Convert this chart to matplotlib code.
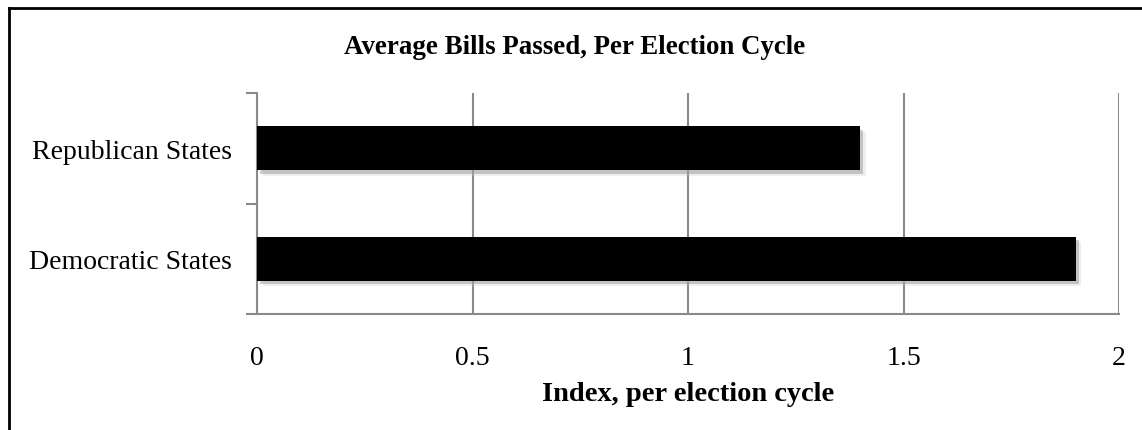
import matplotlib.pyplot as plt
import matplotlib.patheffects as pe
from matplotlib.lines import Line2D

categories = ['Democratic States', 'Republican States']
values = [1.9, 1.4]
x_ticks = [0, 0.5, 1, 1.5, 2]
x_tick_labels = ['0', '0.5', '1', '1.5', '2']

title = 'Average Bills Passed, Per Election Cycle'
x_label = 'Index, per election cycle'

plt.rcParams['font.family'] = ['Liberation Serif', 'DejaVu Serif']

fig = plt.figure(figsize=(11.42, 4.31), dpi=100)
ax = fig.add_axes([257 / 1142, 1 - 315 / 431, (1119 - 257) / 1142, (315 - 94) / 431])

grid_color = '#8a8a8a'

shadow = [pe.SimplePatchShadow(offset=(4, -4), shadow_rgbFace='#c8c8c8', alpha=0.3),
          pe.SimplePatchShadow(offset=(2, -2.5), shadow_rgbFace='#909090', alpha=0.45),
          pe.Normal()]
bars = ax.barh(range(len(categories)), values, height=0.4, color='black', zorder=3)
for b in bars:
    b.set_path_effects(shadow)

ax.set_xlim(0, 2)
ax.set_ylim(-0.5, len(categories) - 0.5)
ax.set_xticks(x_ticks)
ax.set_xticklabels(x_tick_labels, fontsize=20)
ax.set_yticks(range(len(categories)))
ax.set_yticklabels(categories, fontsize=20)
ax.tick_params(axis='y', length=0, pad=18)
ax.tick_params(axis='x', length=0, pad=22)

# category boundary ticks on the y axis
ax.set_yticks([-0.5, 0.5, 1.5], minor=True)
ax.tick_params(axis='y', which='minor', length=8, width=1.5, color=grid_color, direction='out')
ax.set_xticks(x_ticks, minor=True)
ax.tick_params(axis='x', which='minor', length=8, width=1.5, color=grid_color, direction='out')

ax.grid(axis='x', color=grid_color, linewidth=1.5, zorder=0)
ax.set_axisbelow(True)
for side in ['top', 'right']:
    ax.spines[side].set_visible(False)
for side in ['left', 'bottom']:
    ax.spines[side].set_color(grid_color)
    ax.spines[side].set_linewidth(1.5)

ax.set_xlabel(x_label, fontsize=20.5, fontweight='bold', labelpad=8)
fig.text(575 / 1142, 1 - 47 / 431, title, fontsize=19.4, fontweight='bold', ha='center', va='center')

# outer frame (left and top only)
fig.add_artist(Line2D([9 / 1142, 9 / 1142], [0, 1 - 9 / 431], transform=fig.transFigure, color='black', linewidth=2))
fig.add_artist(Line2D([9 / 1142, 1], [1 - 9 / 431, 1 - 9 / 431], transform=fig.transFigure, color='black', linewidth=2))

fig.savefig('out.png', dpi=100, facecolor='white')
